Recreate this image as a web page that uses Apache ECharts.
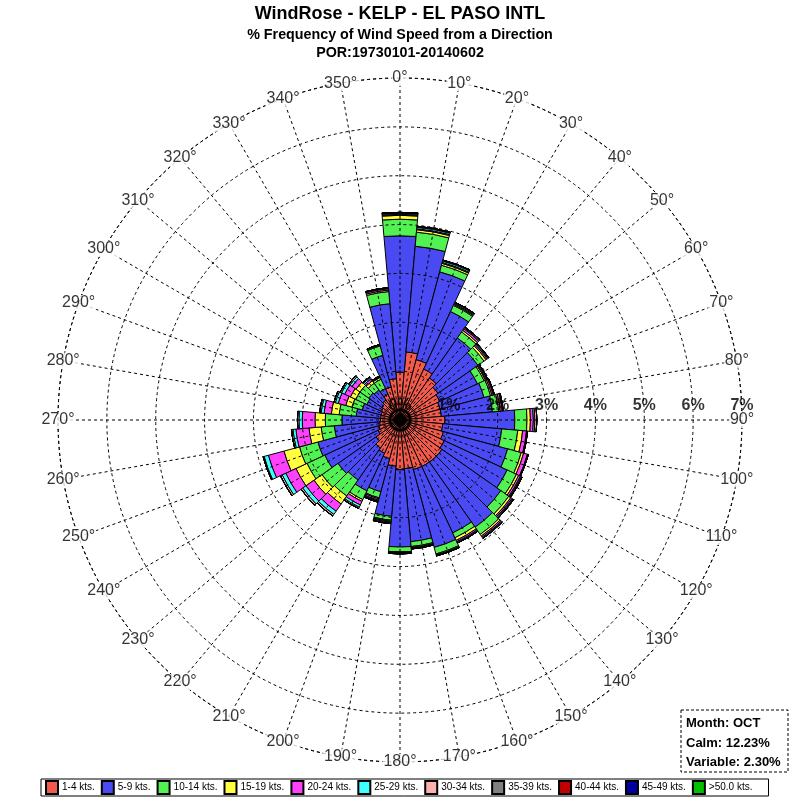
<!DOCTYPE html>
<html><head><meta charset="utf-8">
<script src="https://cdn.jsdelivr.net/npm/echarts@6/dist/echarts.min.js"></script>
<style>html,body{margin:0;padding:0;background:#fff}#c{width:800px;height:800px}</style>
</head><body><div id="c"></div>
<script>
const directions = ['0°','10°','20°','30°','40°','50°','60°','70°','80°','90°','100°','110°','120°','130°','140°','150°','160°','170°','180°','190°','200°','210°','220°','230°','240°','250°','260°','270°','280°','290°','300°','310°','320°','330°','340°','350°'];
const directionAngles = [0,10,20,30,40,50,60,70,80,90,100,110,120,130,140,150,160,170,180,190,200,210,220,230,240,250,260,270,280,290,300,310,320,330,340,350];
const radiusTicks = ['0%','1%','2%','3%','4%','5%','6%','7%'];
const radiusValues = [0,1,2,3,4,5,6,7];
const speedClasses = ['1-4 kts.','5-9 kts.','10-14 kts.','15-19 kts.','20-24 kts.','25-29 kts.','30-34 kts.','35-39 kts.','40-44 kts.','45-49 kts.','>50.0 kts.'];
const speedColors = ['#f25a4c','#4a4af2','#52f252','#ffff40','#ff40ff','#40ffff','#ffb0b0','#808080','#c00000','#0000a0','#00c000'];

// % frequency per direction (0°,10°,...,350°) for each speed class
const s1_4   = [0.98,1.40,1.28,1.15,1.05,0.95,0.90,0.85,0.85,0.92,0.88,0.92,1.00,1.05,1.05,1.05,1.05,1.00,1.02,0.95,0.82,0.75,0.70,0.60,0.50,0.45,0.42,0.40,0.40,0.40,0.42,0.45,0.50,0.58,0.70,0.85];
const s5_9   = [2.79,2.17,1.86,1.30,1.00,1.00,0.85,0.93,1.05,1.43,1.21,1.36,1.42,1.47,1.63,1.50,1.65,1.50,1.58,1.03,0.70,0.85,0.80,0.95,1.20,1.29,0.93,0.79,0.50,0.40,0.33,0.33,0.25,0.13,0.67,1.54];
const s10_14 = [0.34,0.29,0.14,0.14,0.15,0.15,0.15,0.14,0.13,0.25,0.33,0.29,0.21,0.20,0.18,0.11,0.14,0.10,0.10,0.08,0.13,0.20,0.40,0.40,0.40,0.39,0.27,0.34,0.35,0.22,0.25,0.22,0.17,0.21,0.20,0.25];
const s15_19 = [0.08,0.05,0.04,0.02,0.04,0.05,0.03,0.03,0.03,0.07,0.10,0.05,0.05,0.05,0.04,0.06,0.02,0.02,0.01,0.02,0.02,0.04,0.20,0.20,0.25,0.33,0.25,0.21,0.16,0.13,0.12,0.10,0.06,0.04,0.02,0.03];
const s20_24 = [0.02,0.02,0.02,0.02,0.04,0.03,0.02,0.03,0.04,0.06,0.08,0.08,0.04,0.03,0.03,0.03,0.01,0.01,0.01,0.02,0.03,0.08,0.18,0.20,0.23,0.33,0.27,0.26,0.15,0.16,0.13,0.10,0.05,0.01,0.01,0.03];
const s25_29 = [0.02,0.03,0.03,0.02,0.02,0.02,0.02,0.01,0.01,0.03,0.01,0.01,0.02,0.02,0.02,0.02,0.01,0.01,0.01,0.02,0.02,0.05,0.08,0.08,0.08,0.09,0.06,0.07,0.06,0.06,0.07,0.05,0.03,0.01,0.00,0.01];
const s30_34 = [0.02,0.02,0.02,0.01,0.02,0.02,0.01,0.01,0.01,0.04,0.01,0.01,0.02,0.02,0.01,0.01,0.00,0.01,0.01,0.01,0.02,0.03,0.04,0.04,0.04,0.02,0.03,0.03,0.03,0.03,0.03,0.03,0.02,0.01,0.00,0.01];
const s35_39 = [0,0,0,0,0,0,0,0,0,0,0,0,0,0,0,0,0,0,0,0,0,0,0,0,0,0,0,0,0,0,0,0,0,0,0,0];
const s40_44 = [0,0,0,0,0,0,0,0,0,0,0,0,0,0,0,0,0,0,0,0,0,0,0,0,0,0,0,0,0,0,0,0,0,0,0,0];
const s45_49 = [0,0,0,0,0,0,0,0,0,0,0,0,0,0,0,0,0,0,0,0,0,0,0,0,0,0,0,0,0,0,0,0,0,0,0,0];
const s50    = [0,0,0,0,0,0,0,0,0,0,0,0,0,0,0,0,0,0,0,0,0,0,0,0,0,0,0,0,0,0,0,0,0,0,0,0];
const classData = [s1_4,s5_9,s10_14,s15_19,s20_24,s25_29,s30_34,s35_39,s40_44,s45_49,s50];

const titleText = 'WindRose - KELP - EL PASO INTL';
const subText = '% Frequency of Wind Speed from a Direction\nPOR:19730101-20140602';
const infoLines = ['Month: OCT','Calm: 12.23%','Variable: 2.30%'];

const FONT = 'Liberation Sans, Arial, sans-serif';
const chart = echarts.init(document.getElementById('c'), null, {renderer:'canvas'});
const dashed = {color:'#000', type:[3,3], width:1};

const series = speedClasses.map((name,i)=>({
  name, type:'bar', coordinateSystem:'polar', polarIndex:0, stack:'rose',
  data: classData[i], barCategoryGap:'0%',
  itemStyle:{color:speedColors[i], borderColor:'#000', borderWidth:1},
  emphasis:{disabled:true}, animation:false, z:2
}));

// direction labels, centred on the outer (7%) circle
series.push({
  name:'dirLabels', type:'scatter', coordinateSystem:'polar', polarIndex:1,
  data: directionAngles.map(a=>[7, a]), symbolSize:1, itemStyle:{color:'rgba(0,0,0,0)'},
  silent:true, z:20, zlevel:1, animation:false,
  label:{show:true, position:'inside', fontFamily:FONT, fontSize:16, color:'#000',
    backgroundColor:'#fff', padding:[0,1],
    formatter:(p)=>directions[p.dataIndex]}
});
// radius labels along the east axis
series.push({
  name:'radLabels', type:'scatter', coordinateSystem:'polar', polarIndex:1,
  data: radiusValues.map(r=>[r, 90]), symbolSize:1, itemStyle:{color:'rgba(0,0,0,0)'},
  silent:true, z:21, zlevel:1, animation:false,
  label:{show:true, position:'top', distance:6, fontFamily:FONT, fontSize:16, fontWeight:'bold', color:'#000',
    formatter:(p)=>radiusTicks[p.dataIndex]}
});

chart.setOption({
  animation:false,
  backgroundColor:'transparent',
  title:{text:titleText, subtext:subText, left:'center', top:0, itemGap:3,
    textStyle:{fontFamily:FONT, fontSize:18, fontWeight:'bold', color:'#000'},
    subtextStyle:{fontFamily:FONT, fontSize:14.3, fontWeight:'bold', color:'#000', lineHeight:18}},
  legend:{data:speedClasses, left:41, top:779, orient:'horizontal', icon:'rect',
    itemWidth:12, itemHeight:13, itemGap:6, padding:[1,16,1,4],
    borderColor:'#000', borderWidth:1, backgroundColor:'#fff', selectedMode:false,
    textStyle:{fontFamily:FONT, fontSize:10, color:'#000', padding:[0,0,0,-1]}},
  polar:[{center:[400,420], radius:342},{center:[400,420], radius:342}],
  angleAxis:[
    {polarIndex:0, type:'category', data:directions, startAngle:95, clockwise:true,
     boundaryGap:true, axisLine:{show:false}, axisTick:{show:false}, axisLabel:{show:false}, splitLine:{show:false}},
    {polarIndex:1, type:'value', min:0, max:360, interval:10, startAngle:90, clockwise:true, z:5,
     axisLine:{show:true, lineStyle:dashed}, axisTick:{show:false},
     splitLine:{show:true, lineStyle:dashed}, axisLabel:{show:false}}
  ],
  radiusAxis:[
    {polarIndex:0, type:'value', min:0, max:7, axisLine:{show:false}, axisTick:{show:false}, axisLabel:{show:false}, splitLine:{show:false}},
    {polarIndex:1, type:'value', min:0, max:7, interval:1, z:5,
     axisLine:{show:false}, axisTick:{show:false}, axisLabel:{show:false},
     splitLine:{show:true, lineStyle:dashed}}
  ],
  series,
  graphic:[
    {type:'circle', shape:{cx:400, cy:420, r:10}, style:{fill:'none', stroke:'#000', lineWidth:2}, z:10},
    {type:'circle', shape:{cx:400, cy:420, r:4}, style:{fill:'none', stroke:'#000', lineWidth:2}, z:10},
    {type:'rect', shape:{x:681, y:710, width:107, height:62}, style:{fill:'rgba(0,0,0,0)', stroke:'#000', lineWidth:1, lineDash:[3,2]}, z:10},
    {type:'text', left:686, top:714, z:11, style:{text:infoLines.join('\n'), fontFamily:FONT, fontSize:13, fontWeight:'bold', fill:'#000', lineHeight:19.5}}
  ]
});
</script></body></html>
